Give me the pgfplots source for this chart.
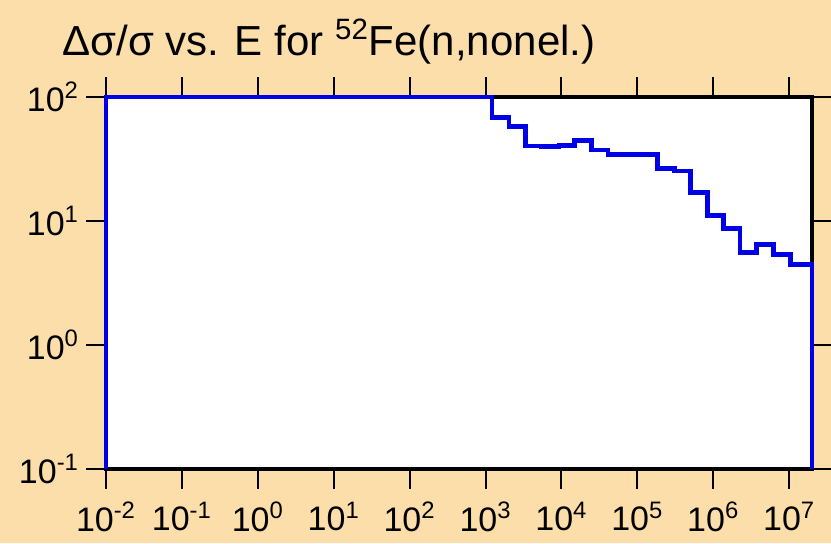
\documentclass[border=0pt]{standalone}
\usepackage{pgfplots}
\pgfplotsset{compat=1.18}
\usepackage{fontspec}
\setmainfont{Liberation Sans}
\definecolor{bg}{RGB}{252,222,170}
\definecolor{curve}{RGB}{0,0,230}
\begin{document}
\begin{tikzpicture}
\fill[bg] (0pt,0pt) rectangle (415.5pt,271.5pt);
\useasboundingbox (0pt,0pt) rectangle (415.5pt,271.5pt);
\begin{axis}[
    at={(53pt,37pt)}, anchor=south west,
    scale only axis, width=353pt, height=186pt,
    xmode=log, ymode=log,
    xmin=1e-2, xmax=2e7, ymin=0.1, ymax=100,
    xtick={1e-2,1e-1,1,10,100,1e3,1e4,1e5,1e6,1e7},
    ytick={0.1,1,10,100},
    xminorticks=false, yminorticks=false,
    tick align=outside, major tick length=10pt,
    tick style={line width=1pt, black},
    axis line style={line width=2.4pt},
    axis background/.style={fill=white},
    tick label style={font=\fontsize{17}{17}\selectfont},
    xticklabel style={yshift=-3pt},
    xticklabel={\pgfmathtruncatemacro{\e}{round(\tick/2.302585)}10\textsuperscript{\e}},
    yticklabel={\pgfmathtruncatemacro{\e}{round(\tick/2.302585)}10\textsuperscript{\e}},
    clip=false,
]
\addplot[const plot mark left, curve, line width=2.4pt, line join=miter] coordinates {
(1e-2,0.1) (1e-2,100) (1220,68.6) (2040,57.5) (3400,40.3) (5500,40)
(9300,40.8) (15000,44.5) (25000,37.4) (41000,34.5) (66000,34.2)
(110000,34.5) (185000,26.7) (310000,25.3) (500000,17) (830000,11)
(1.36e6,8.7) (2.25e6,5.55) (3.7e6,6.5) (6.2e6,5.4) (1.03e7,4.45) (2e7,0.1)
};
\end{axis}
\node[anchor=base west, font=\fontsize{21}{21}\selectfont, inner sep=0pt]
  at (31pt,244pt) {Δσ/σ vs. E for \textsuperscript{52}Fe(n,nonel.)};
\end{tikzpicture}
\end{document}
